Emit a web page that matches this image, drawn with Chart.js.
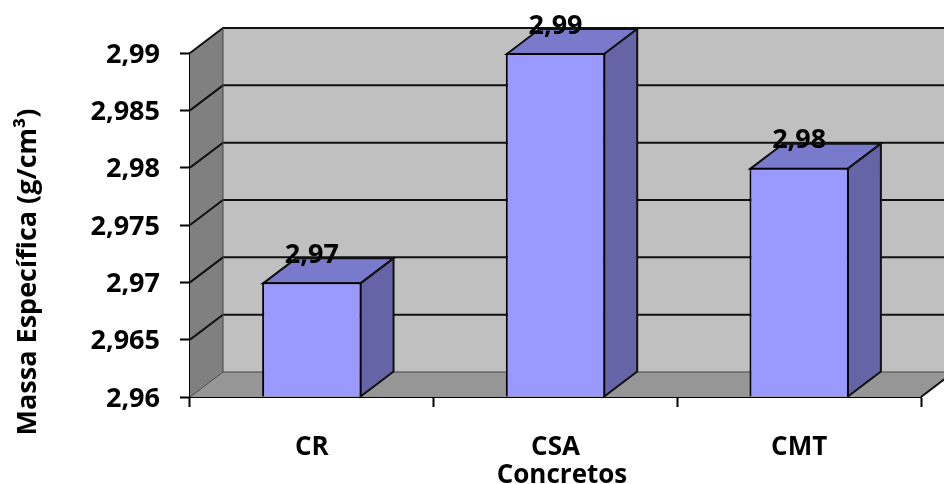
<!DOCTYPE html>
<html>
<head>
<meta charset="utf-8">
<title>Massa Específica</title>
<script src="https://cdn.jsdelivr.net/npm/chart.js@4"></script>
<style>
  html, body { margin: 0; padding: 0; background: #fff; }
  canvas { display: block; }
</style>
</head>
<body>
<canvas id="barChart" width="944" height="484"></canvas>
<script>
const categories = ['CR', 'CSA', 'CMT'];
const massaEspecifica = [2.97, 2.99, 2.98];
const yTickLabels = ['2,96', '2,965', '2,97', '2,975', '2,98', '2,985', '2,99'];
const yMin = 2.96;
const yMax = 2.99;
const yTitle = 'Massa Específica (g/cm³)';
const xTitle = 'Concretos';

const FONT = '"Open Sans", Lato, sans-serif';
const DEPTH_X = 33;
const DEPTH_Y = 25;

function polygon(ctx, pts, fill) {
    ctx.beginPath();
    pts.forEach((p, i) => i ? ctx.lineTo(p[0], p[1]) : ctx.moveTo(p[0], p[1]));
    ctx.closePath();
    ctx.fillStyle = fill;
    ctx.fill();
}

// walls, floor and gridlines behind the bars
const walls = {
    id: 'walls',
    beforeDatasetsDraw(chart) {
        const { ctx, chartArea: a, scales: { y } } = chart;
        const w = chart.width;
        ctx.save();
        polygon(ctx, [[a.left + DEPTH_X, a.top - DEPTH_Y], [w, a.top - DEPTH_Y], [w, a.bottom - DEPTH_Y], [a.left + DEPTH_X, a.bottom - DEPTH_Y]], '#c0c0c0');
        polygon(ctx, [[a.left, a.top], [a.left + DEPTH_X, a.top - DEPTH_Y], [a.left + DEPTH_X, a.bottom - DEPTH_Y], [a.left, a.bottom]], '#808080');
        polygon(ctx, [[a.left, a.bottom], [a.right, a.bottom], [a.right + DEPTH_X, a.bottom - DEPTH_Y], [a.left + DEPTH_X, a.bottom - DEPTH_Y]], '#969696');

        ctx.lineWidth = 2;
        ctx.strokeStyle = '#111';
        y.ticks.forEach((t, i) => {
            if (i === 0) return;
            const py = y.getPixelForValue(t.value);
            ctx.beginPath();
            ctx.moveTo(a.left, py);
            ctx.lineTo(a.left + DEPTH_X, py - DEPTH_Y);
            ctx.lineTo(w, py - DEPTH_Y);
            ctx.stroke();
        });
        // floor edges
        ctx.lineWidth = 1;
        ctx.strokeStyle = '#444';
        ctx.beginPath();
        ctx.moveTo(a.left, a.bottom);
        ctx.lineTo(a.left + DEPTH_X, a.bottom - DEPTH_Y);
        ctx.lineTo(w, a.bottom - DEPTH_Y);
        ctx.moveTo(a.left + DEPTH_X, a.top - DEPTH_Y);
        ctx.lineTo(a.left + DEPTH_X, a.bottom - DEPTH_Y);
        ctx.stroke();
        ctx.lineWidth = 2;
        ctx.strokeStyle = '#111';
        ctx.beginPath();
        ctx.moveTo(a.right, a.bottom);
        ctx.lineTo(a.right + DEPTH_X, a.bottom - DEPTH_Y);
        ctx.stroke();

        // top and side faces of each bar
        chart.getDatasetMeta(0).data.forEach(bar => {
            const half = bar.width / 2 - 1;
            const l = bar.x - half, r = bar.x + half;
            const t = bar.y + 1, b = bar.base;
            const topFace = [[l, t], [l + DEPTH_X, t - DEPTH_Y], [r + DEPTH_X, t - DEPTH_Y], [r, t]];
            const sideFace = [[r, t], [r + DEPTH_X, t - DEPTH_Y], [r + DEPTH_X, b - DEPTH_Y], [r, b]];
            polygon(ctx, topFace, '#7a7acc');
            ctx.stroke();
            polygon(ctx, sideFace, '#6464a6');
            ctx.stroke();
        });
        ctx.restore();
    },
    afterDatasetsDraw(chart) {
        const { ctx } = chart;
        ctx.save();
        ctx.fillStyle = '#000';
        ctx.font = 'bold 27px ' + FONT;
        ctx.textAlign = 'center';
        ctx.textBaseline = 'middle';
        chart.getDatasetMeta(0).data.forEach((bar, i) => {
            ctx.fillText(String(massaEspecifica[i]).replace('.', ','), bar.x, bar.y - 27);
        });
        ctx.restore();
    },
    afterDraw(chart) {
        const { ctx } = chart;
        ctx.save();
        ctx.fillStyle = '#000';
        ctx.textAlign = 'center';
        ctx.textBaseline = 'middle';
        ctx.font = 'bold 26px ' + FONT;
        ctx.fillText(xTitle, 562, 476);
        ctx.font = 'bold 27px ' + FONT;
        ctx.translate(28, 272);
        ctx.rotate(-Math.PI / 2);
        ctx.fillText(yTitle, 0, 0);
        ctx.restore();
    }
};

new Chart(document.getElementById('barChart'), {
    type: 'bar',
    data: {
        labels: categories,
        datasets: [{
            data: massaEspecifica,
            base: yMin,
            backgroundColor: '#9999ff',
            borderColor: '#000',
            borderWidth: 2,
            barPercentage: 0.408,
            categoryPercentage: 1
        }]
    },
    options: {
        responsive: false,
        animation: false,
        layout: { padding: { top: 53, right: 23 } },
        plugins: { legend: { display: false }, tooltip: { enabled: false } },
        scales: {
            x: {
                afterFit(scale) { scale.height = 87; },
                grid: { drawOnChartArea: false, tickLength: 10, tickColor: '#000', tickWidth: 2 },
                border: { color: '#000', width: 2 },
                ticks: { color: '#000', padding: 25, maxRotation: 0, font: { family: FONT, size: 26, weight: 'bold' } }
            },
            y: {
                min: yMin,
                max: yMax,
                afterFit(scale) { scale.width = 190; },
                grid: { drawOnChartArea: false, tickLength: 10, tickColor: '#000', tickWidth: 2 },
                border: { color: '#000', width: 2 },
                ticks: {
                    stepSize: 0.005,
                    color: '#000',
                    padding: 20,
                    labelOffset: 2,
                    font: { family: FONT, size: 27, weight: 'bold' },
                    callback: (v, i) => yTickLabels[i]
                }
            }
        }
    },
    plugins: [walls]
});
</script>
</body>
</html>
